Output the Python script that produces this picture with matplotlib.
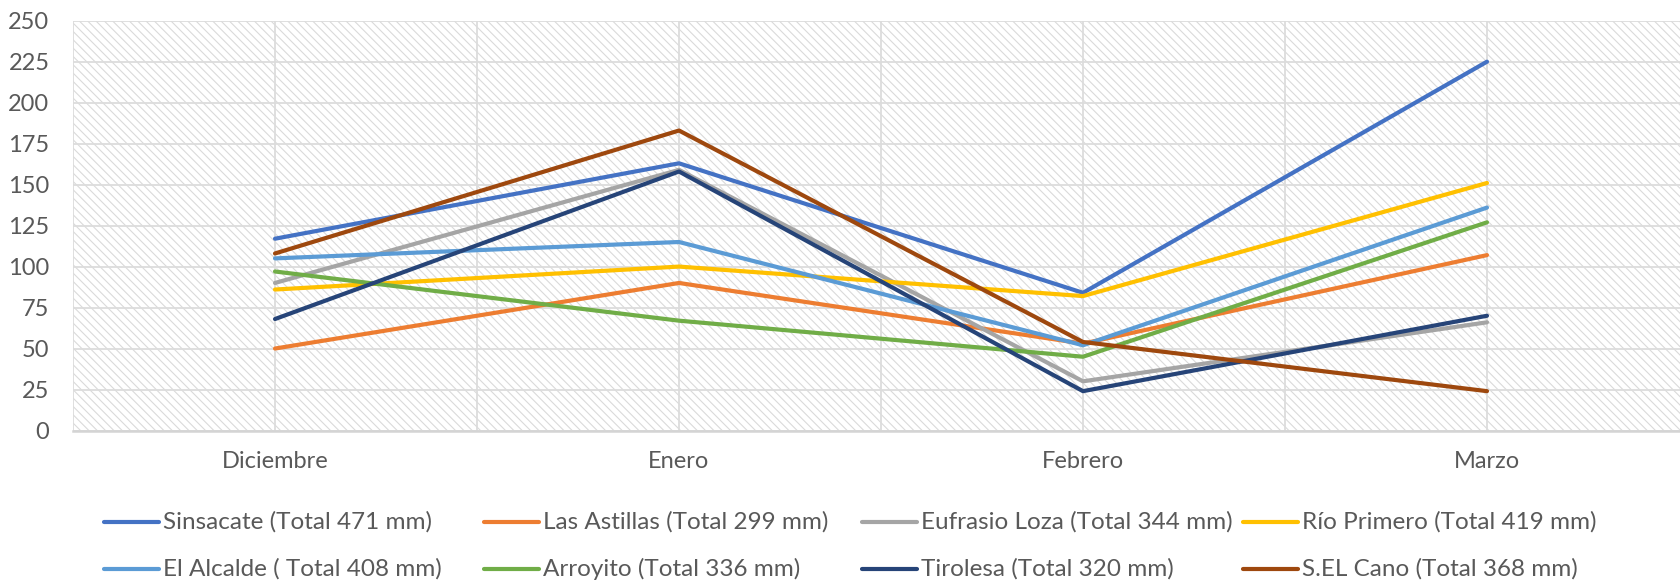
import matplotlib
matplotlib.use("Agg")
import matplotlib.pyplot as plt
from matplotlib.patches import Rectangle
from matplotlib.lines import Line2D

# Monthly rainfall (mm) per station
months = ["Diciembre", "Enero", "Febrero", "Marzo"]
sinsacate = [117, 163, 84, 225]
las_astillas = [50, 90, 53, 107]
eufrasio_loza = [90, 159, 30, 66]
rio_primero = [86, 100, 82, 151]
el_alcalde = [105, 115, 52, 136]
arroyito = [97, 67, 45, 127]
tirolesa = [68, 158, 24, 70]
sel_cano = [108, 183, 54, 24]

labels = [
    "Sinsacate (Total 471 mm)",
    "Las Astillas (Total 299 mm)",
    "Eufrasio Loza (Total 344 mm)",
    "Río Primero (Total 419 mm)",
    "El Alcalde ( Total 408 mm)",
    "Arroyito (Total 336 mm)",
    "Tirolesa (Total 320 mm)",
    "S.EL Cano (Total 368 mm)",
]
series = [sinsacate, las_astillas, eufrasio_loza, rio_primero,
          el_alcalde, arroyito, tirolesa, sel_cano]
colors = ["#4472C4", "#ED7D31", "#A5A5A5", "#FFC000",
          "#5B9BD5", "#70AD47", "#264478", "#9E480E"]
yticks = list(range(0, 251, 25))

plt.rcParams["font.family"] = ["Lato", "DejaVu Sans"]
plt.rcParams["hatch.linewidth"] = 0.8
text_color = "#595959"
grid_color = "#dcdcdc"
hatch_color = "#dadada"

W, H = 1680, 583
fig = plt.figure(figsize=(W / 100, H / 100), dpi=100)
fig.patch.set_facecolor("white")

left, right, top, bottom = 73, 1689, 20.7, 430.5
ax = fig.add_axes([left / W, 1 - bottom / H, (right - left) / W, (bottom - top) / H])
ax.patch.set_facecolor("white")

# Patterned plot area
ax.add_patch(Rectangle((0, 0), 1, 1, transform=ax.transAxes, facecolor="white",
                       edgecolor=hatch_color, linewidth=0, hatch="\\\\\\\\",
                       zorder=0.1))

x = list(range(len(months)))
for vals, c in zip(series, colors):
    ax.plot(x, vals, color=c, lw=3.0, solid_capstyle="round",
            solid_joinstyle="round", zorder=3)

ax.set_xlim(-0.5, len(months) - 0.5)
ax.set_ylim(0, 250)
ax.set_yticks(yticks)
ax.set_xticks(x)
ax.set_xticklabels(months)
ax.set_xticks([i - 0.5 for i in range(len(months) + 1)], minor=True)

ax.set_axisbelow(True)
ax.grid(True, axis="y", color=grid_color, lw=1.3, zorder=0.5)
ax.grid(True, axis="x", which="both", color=grid_color, lw=1.3, zorder=0.5)

for s in ["top", "right", "left"]:
    ax.spines[s].set_visible(False)
ax.spines["bottom"].set_color("#d4d4d4")
ax.spines["bottom"].set_linewidth(1.8)

ax.tick_params(axis="both", which="both", length=0, labelsize=17, labelcolor=text_color)
ax.tick_params(axis="y", pad=17)
ax.tick_params(axis="x", pad=15)

# Legend laid out on an even four-column grid
col_x = [104, 484, 862, 1243]
row_y = [522, 569]
handle_len = 55
for i, (lab, c) in enumerate(zip(labels, colors)):
    cx = col_x[i % 4]
    cy = row_y[i // 4]
    fig.add_artist(Line2D([cx / W, (cx + handle_len) / W], [1 - cy / H, 1 - cy / H],
                          color=c, lw=3.0, solid_capstyle="round",
                          transform=fig.transFigure))
    fig.text((cx + handle_len + 4) / W, 1 - cy / H, lab, fontsize=17.5,
             color=text_color, va="center", ha="left")

fig.savefig("out.png", dpi=100)
